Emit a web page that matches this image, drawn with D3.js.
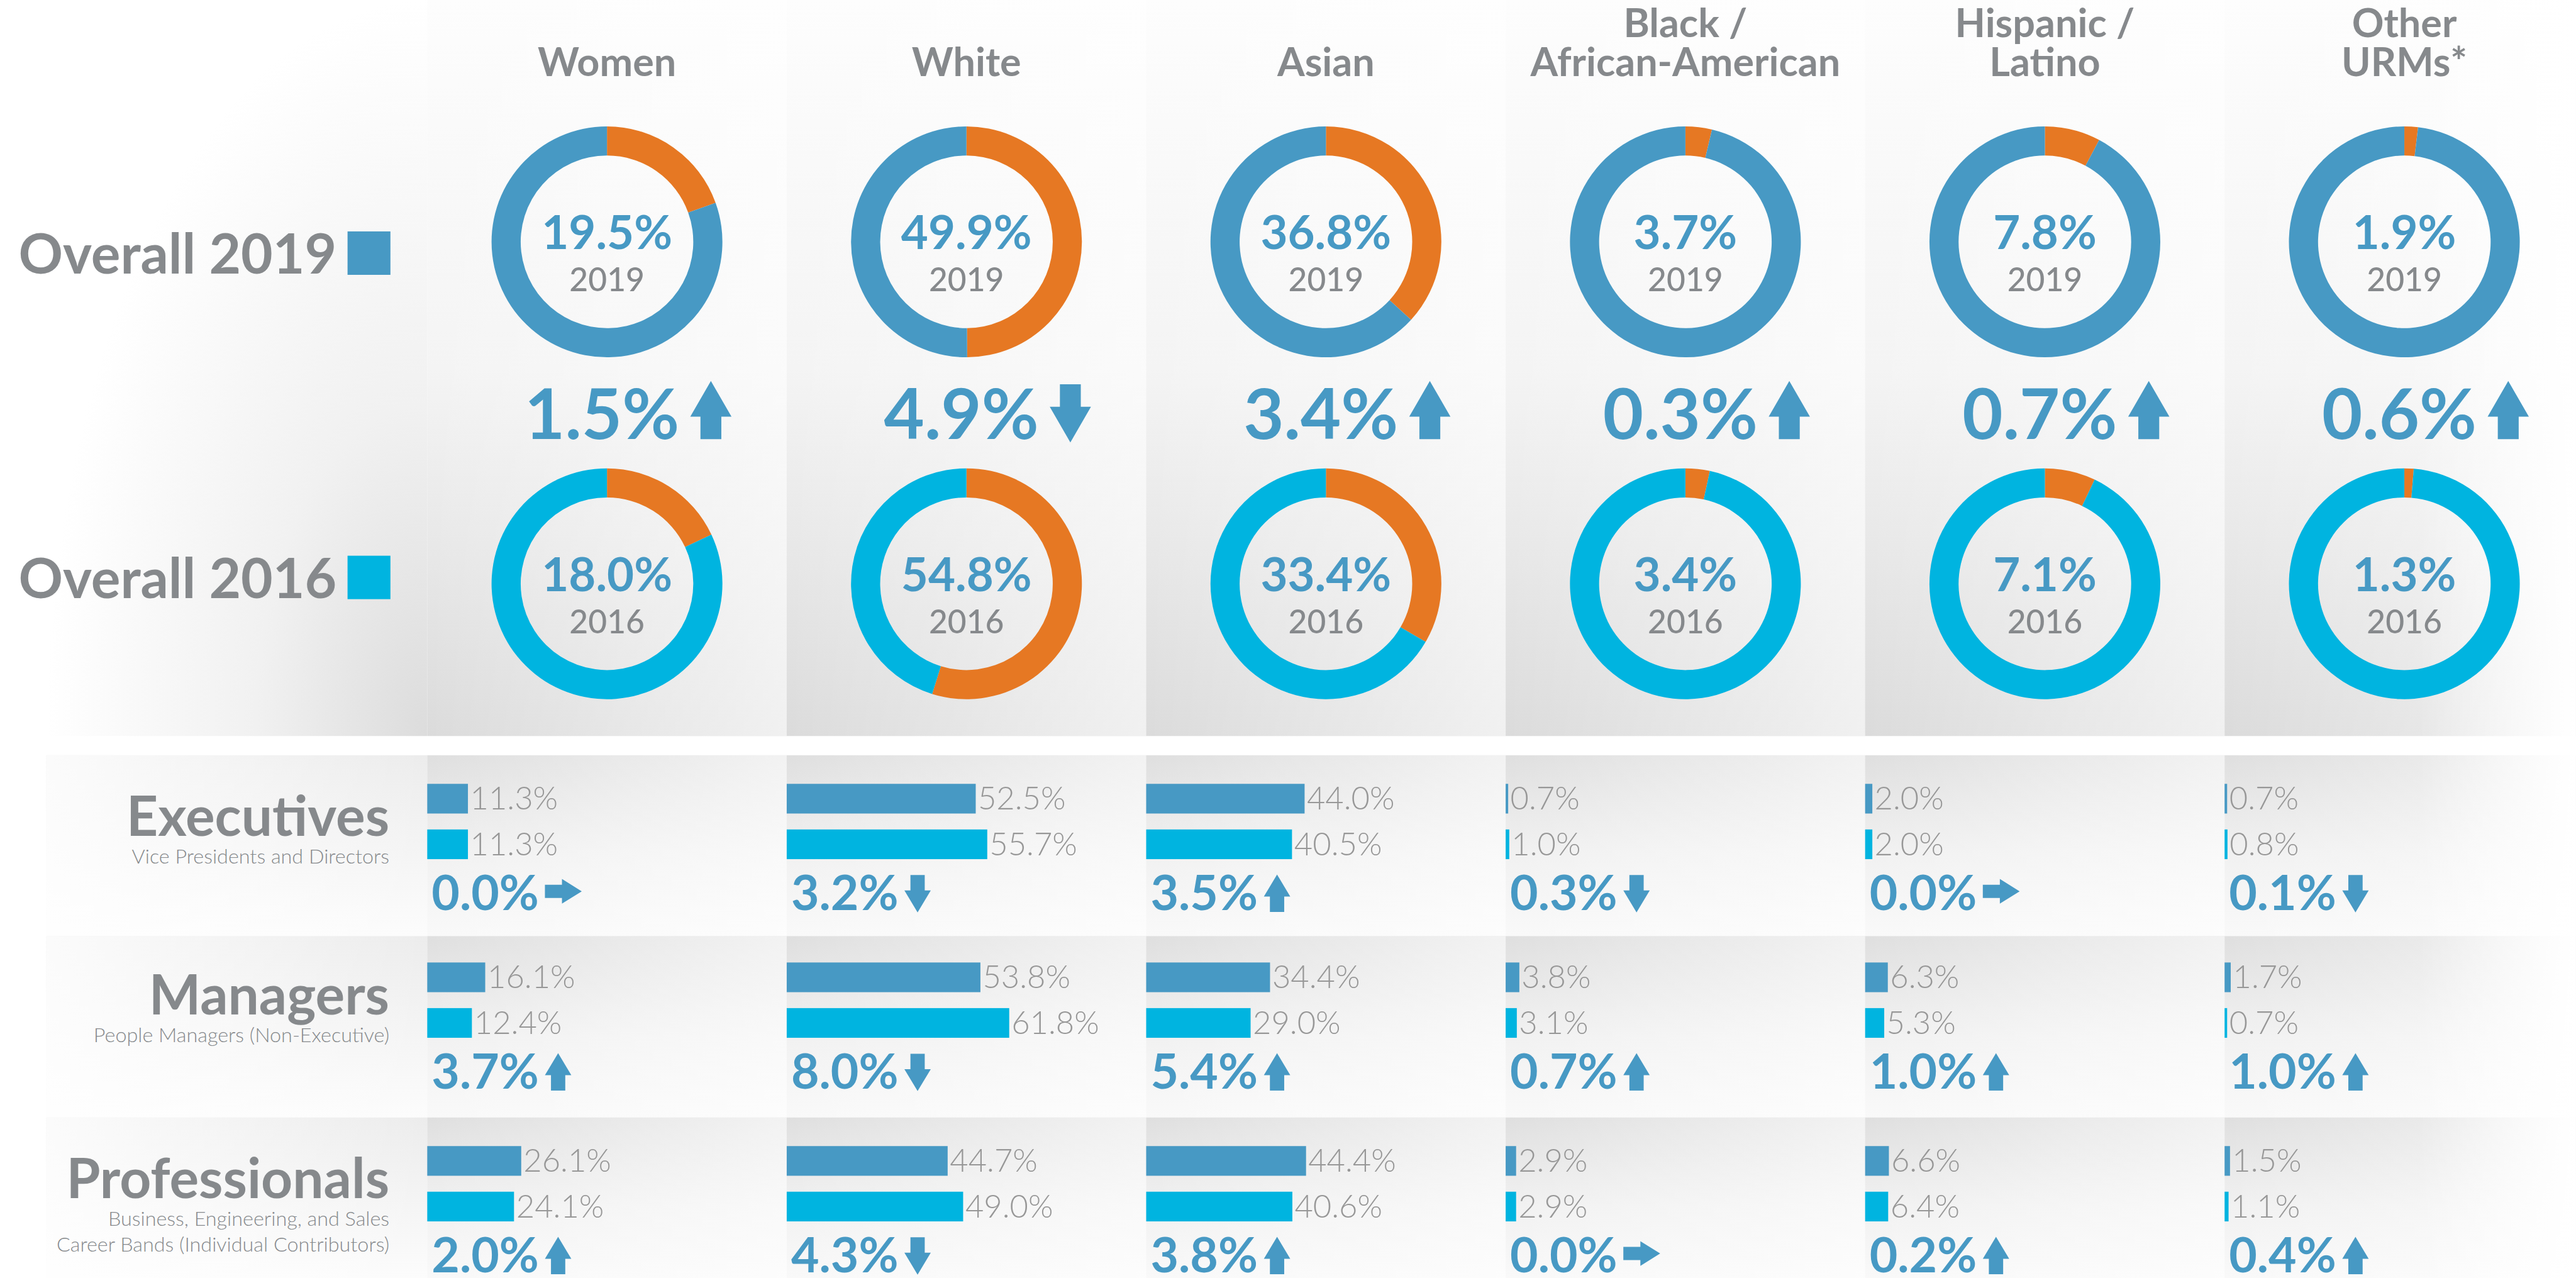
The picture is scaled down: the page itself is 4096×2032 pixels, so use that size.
<!DOCTYPE html>
<html>
<head>
<meta charset="utf-8">
<script src="https://cdn.jsdelivr.net/npm/d3@7"></script>
<style>
  body { margin: 0; background: #fff; }
  text { font-family: Lato, "Open Sans", sans-serif; }
</style>
</head>
<body>
<div id="chart"></div>
<script>
// groups along the top ("|" marks a line break)
const groups = ["Women", "White", "Asian", "Black /|African-American", "Hispanic /|Latino", "Other|URMs*"];

// overall share, 2019 and 2016, and printed change (sign = arrow)
const overall2019 = [19.5, 49.9, 36.8, 3.7, 7.8, 1.9];
const overall2016 = [18.0, 54.8, 33.4, 3.4, 7.1, 1.3];
const overallChange = [1.5, -4.9, 3.4, 0.3, 0.7, 0.6];

// job levels
const levels = ["Executives", "Managers", "Professionals"];
const levelNotes = [
    ["Vice Presidents and Directors"],
    ["People Managers (Non-Executive)"],
    ["Business, Engineering, and Sales", "Career Bands (Individual Contributors)"]
];

const exec2019 = [11.3, 52.5, 44.0, 0.7, 2.0, 0.7];
const exec2016 = [11.3, 55.7, 40.5, 1.0, 2.0, 0.8];
const execChange = [0.0, -3.2, 3.5, -0.3, 0.0, -0.1];

const mgr2019 = [16.1, 53.8, 34.4, 3.8, 6.3, 1.7];
const mgr2016 = [12.4, 61.8, 29.0, 3.1, 5.3, 0.7];
const mgrChange = [3.7, -8.0, 5.4, 0.7, 1.0, 1.0];

const pro2019 = [26.1, 44.7, 44.4, 2.9, 6.6, 1.5];
const pro2016 = [24.1, 49.0, 40.6, 2.9, 6.4, 1.1];
const proChange = [2.0, -4.3, 3.8, 0.0, 0.2, 0.4];

const levelRows = [
    { v19: exec2019, v16: exec2016, ch: execChange },
    { v19: mgr2019, v16: mgr2016, ch: mgrChange },
    { v19: pro2019, v16: pro2016, ch: proChange }
];

const BLUE = "#4799c4", CYAN = "#00b4e0", ORANGE = "#e67823";
const GRAY = "#86898c", LIGHTGRAY = "#979797";

const W = 4686, H = 2325;
const svg = d3.select("#chart").append("svg")
    .attr("width", 4096).attr("height", 2032)
    .attr("viewBox", `0 0 ${W} ${H}`);

const x = d3.scaleBand().domain(groups).range([777, 777 + 6 * 654]);
const bar = d3.scaleLinear().domain([0, 100]).range([0, 655]);

// ---------- gradients ----------
const defs = svg.append("defs");
function linGrad(id, x1, y1, x2, y2, stops) {
    const g = defs.append("linearGradient").attr("id", id)
        .attr("x1", x1).attr("y1", y1).attr("x2", x2).attr("y2", y2);
    stops.forEach(s => g.append("stop").attr("offset", s[0])
        .attr("stop-color", s[1]).attr("stop-opacity", s[2] === undefined ? 1 : s[2]));
}
linGrad("topPanel", 0, 0, 0, 1, [[0, "#fdfdfd"], [0.5, "#f4f4f4"], [1, "#dbdbdb"]]);
linGrad("shine", 0, 0, 1, 0, [[0, "#fff", 0], [1, "#fff", 0.6]]);
linGrad("rowPanel", 0, 0, 0, 1, [[0, "#dfdfdf"], [0.55, "#f1f1f1"], [1, "#f9f9f9"]]);
linGrad("rowLabel", 0, 0, 0, 1, [[0, "#ececec"], [1, "#fcfcfc"]]);
linGrad("leftShine", 0, 0, 1, 0, [[0, "#fff", 0.8], [1, "#fff", 0]]);
linGrad("fadeRight", 0, 0, 1, 0, [[0, "#fff", 0], [1, "#fff", 1]]);
const rg = defs.append("radialGradient").attr("id", "topLabel")
    .attr("cx", 1).attr("cy", 1).attr("r", 1);
[[0, "#dcdcdc"], [0.45, "#f1f1f1"], [1, "#ffffff"]].forEach(s =>
    rg.append("stop").attr("offset", s[0]).attr("stop-color", s[1]));

// ---------- backgrounds ----------
const bg = svg.append("g");
bg.append("rect").attr("x", 84).attr("y", 0).attr("width", 693).attr("height", 1339)
    .attr("fill", "url(#topLabel)");
groups.forEach(g => {
    bg.append("rect").attr("x", x(g)).attr("y", 0).attr("width", x.bandwidth()).attr("height", 1339)
        .attr("fill", "url(#topPanel)");
    bg.append("rect").attr("x", x(g)).attr("y", 0).attr("width", x.bandwidth()).attr("height", 1339)
        .attr("fill", "url(#shine)");
});
const bandTop = [1374, 1703, 2033];
const bandH = [329, 330, 292];
bandTop.forEach((t, r) => {
    bg.append("rect").attr("x", 84).attr("y", t).attr("width", 693).attr("height", bandH[r])
        .attr("fill", "url(#rowLabel)");
    bg.append("rect").attr("x", 84).attr("y", t).attr("width", 693).attr("height", bandH[r])
        .attr("fill", "url(#leftShine)");
    groups.forEach(g => {
        bg.append("rect").attr("x", x(g)).attr("y", t).attr("width", x.bandwidth()).attr("height", bandH[r])
            .attr("fill", "url(#rowPanel)");
        bg.append("rect").attr("x", x(g)).attr("y", t).attr("width", x.bandwidth()).attr("height", bandH[r])
            .attr("fill", "url(#shine)");
    });
});
bg.append("rect").attr("x", 4400).attr("y", 0).attr("width", 286).attr("height", H)
    .attr("fill", "url(#fadeRight)");

// ---------- arrows ----------
function arrowPath(dir, w, h, head, stem) {
    if (dir === "up") {
        return `M${w / 2},0L${w},${head}L${(w + stem) / 2},${head}L${(w + stem) / 2},${h}` +
            `L${(w - stem) / 2},${h}L${(w - stem) / 2},${head}L0,${head}Z`;
    }
    if (dir === "down") {
        return `M${(w - stem) / 2},0L${(w + stem) / 2},0L${(w + stem) / 2},${h - head}L${w},${h - head}` +
            `L${w / 2},${h}L0,${h - head}L${(w - stem) / 2},${h - head}Z`;
    }
    // right: w = length, h = height
    return `M0,${(h - stem) / 2}L${w - head},${(h - stem) / 2}L${w - head},0L${w},${h / 2}` +
        `L${w - head},${h}L${w - head},${(h + stem) / 2}L0,${(h + stem) / 2}Z`;
}
const dirOf = v => v > 0 ? "up" : (v < 0 ? "down" : "right");
const fmt = v => Math.abs(v).toFixed(1) + "%";

// ---------- top: headers ----------
const fg = svg.append("g");
groups.forEach(g => {
    const lines = g.split("|");
    const cx = x(g) + x.bandwidth() / 2;
    lines.forEach((ln, k) => {
        fg.append("text").attr("x", cx).attr("y", lines.length === 2 ? 68 + k * 70 : 138)
            .attr("text-anchor", "middle").attr("font-size", 72).attr("font-weight", 700)
            .attr("fill", GRAY).text(ln);
    });
});

// overall labels
[["Overall 2019", 498, 421, BLUE], ["Overall 2016", 1088, 1011, CYAN]].forEach(d => {
    fg.append("text").attr("x", 612).attr("y", d[1]).attr("text-anchor", "end")
        .attr("font-size", 100).attr("font-weight", 700).attr("fill", GRAY).text(d[0]);
    fg.append("rect").attr("x", 632).attr("y", d[2]).attr("width", 78).attr("height", 79).attr("fill", d[3]);
});

// donuts
const pie = d3.pie().sort(null).value(d => d);
const arc = d3.arc().innerRadius(157).outerRadius(210);
[{ vals: overall2019, cy: 440, color: BLUE, year: "2019" },
 { vals: overall2016, cy: 1062, color: CYAN, year: "2016" }].forEach(row => {
    groups.forEach((g, i) => {
        const cx = x(g) + x.bandwidth() / 2;
        const dg = fg.append("g").attr("transform", `translate(${cx},${row.cy})`);
        dg.selectAll("path").data(pie([row.vals[i], 100 - row.vals[i]])).join("path")
            .attr("d", arc).attr("fill", (d, j) => j === 0 ? ORANGE : row.color);
        dg.append("text").attr("y", 13).attr("text-anchor", "middle").attr("font-size", 85)
            .attr("font-weight", 700).attr("fill", BLUE).text(row.vals[i].toFixed(1) + "%");
        dg.append("text").attr("y", 90).attr("text-anchor", "middle").attr("font-size", 59)
            .attr("font-weight", 500).attr("fill", GRAY).text(row.year);
    });
});

// overall change
groups.forEach((g, i) => {
    const cx = x(g) + x.bandwidth() / 2;
    const base = 799;
    const t = fg.append("text").attr("x", cx - 150).attr("y", base).attr("font-size", 127)
        .attr("font-weight", 700).attr("fill", BLUE).text(fmt(overallChange[i]));
    const tw = t.node().getComputedTextLength();
    const dir = dirOf(overallChange[i]);
    const top = dir === "up" ? base - 106 : base - 100;
    fg.append("path").attr("transform", `translate(${cx - 150 + tw + 20},${top})`)
        .attr("d", arrowPath(dir, 75, 106, 65, 38)).attr("fill", BLUE);
});

// ---------- bottom: level rows ----------
const barTop = [1426, 1751, 2085];
levels.forEach((name, r) => {
    const y0 = barTop[r];
    fg.append("text").attr("x", 708).attr("y", y0 + 95).attr("text-anchor", "end")
        .attr("font-size", 100).attr("font-weight", 700).attr("fill", GRAY).text(name);
    levelNotes[r].forEach((n, k) => {
        fg.append("text").attr("x", 708).attr("y", y0 + 145 + k * 47).attr("text-anchor", "end")
            .attr("font-size", 37).attr("font-weight", 300).attr("fill", GRAY).text(n);
    });

    const row = levelRows[r];
    groups.forEach((g, i) => {
        const x0 = x(g);
        [[row.v19[i], y0, BLUE], [row.v16[i], y0 + 83, CYAN]].forEach(b => {
            const bw = Math.max(bar(b[0]), 3);
            fg.append("rect").attr("x", x0).attr("y", b[1]).attr("width", bw).attr("height", 54)
                .attr("fill", b[2]);
            fg.append("text").attr("x", x0 + bw + 4).attr("y", b[1] + 47)
                .attr("font-size", 58).attr("font-weight", 300).attr("fill", LIGHTGRAY)
                .text(b[0].toFixed(1) + "%");
        });
        const base = y0 + 230;
        const t = fg.append("text").attr("x", x0 + 8).attr("y", base).attr("font-size", 88)
            .attr("font-weight", 700).attr("fill", BLUE).text(fmt(row.ch[i]));
        const tw = t.node().getComputedTextLength();
        const dir = dirOf(row.ch[i]);
        const ax = x0 + 8 + tw + 11;
        if (dir === "right") {
            fg.append("path").attr("transform", `translate(${ax},${base - 57})`)
                .attr("d", arrowPath("right", 67, 45, 36, 24)).attr("fill", BLUE);
        } else {
            fg.append("path").attr("transform", `translate(${ax},${dir === "up" ? base - 65 : base - 64})`)
                .attr("d", arrowPath(dir, 48, 68, 40, 26)).attr("fill", BLUE);
        }
    });
});
</script>
</body>
</html>
